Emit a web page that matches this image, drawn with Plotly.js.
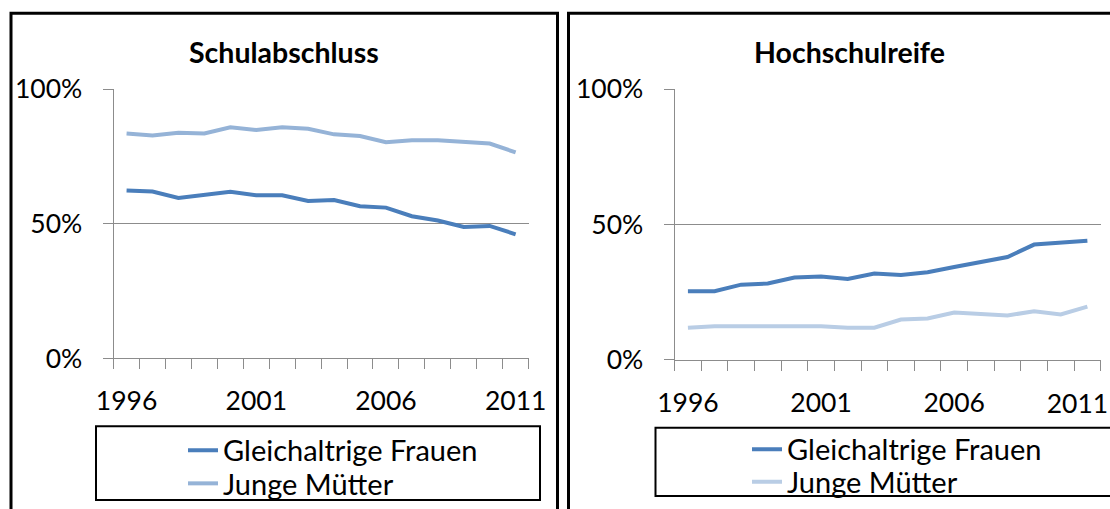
<!DOCTYPE html>
<html>
<head>
<meta charset="utf-8">
<script src="https://cdn.plot.ly/plotly-3.0.1.min.js"></script>
<style>
  html, body { margin: 0; padding: 0; background: #ffffff; }
  #chart { width: 1110px; height: 509px; }
</style>
</head>
<body>
<div id="chart"></div>
<script>
// ---- Data (values in percent) ----
const years = [1996, 1997, 1998, 1999, 2000, 2001, 2002, 2003, 2004, 2005, 2006, 2007, 2008, 2009, 2010, 2011];
const yearTickLabels = [1996, 2001, 2006, 2011];
const percentTicks = [0, 50, 100];

const panelTitles = ["Schulabschluss", "Hochschulreife"];
const seriesNames = ["Gleichaltrige Frauen", "Junge Mütter"];

// Schulabschluss
const schulFrauen  = [62.4, 62.0, 59.6, 60.6, 61.9, 60.6, 60.6, 58.5, 58.8, 56.5, 56.0, 52.8, 51.2, 48.8, 49.2, 46.1];
const schulMuetter = [83.5, 82.8, 83.8, 83.5, 85.8, 84.8, 85.8, 85.3, 83.2, 82.6, 80.3, 81.0, 81.0, 80.3, 79.8, 76.5];

// Hochschulreife
const hochFrauen  = [25.4, 25.4, 27.8, 28.2, 30.4, 30.8, 29.9, 31.9, 31.4, 32.4, 34.3, 36.1, 38.0, 42.6, 43.3, 44.0];
const hochMuetter = [11.9, 12.4, 12.4, 12.4, 12.4, 12.4, 11.9, 11.9, 14.9, 15.3, 17.5, 16.9, 16.4, 18.0, 16.8, 19.7];

// ---- Layout helpers (pixel -> paper) ----
const W = 1110, H = 509;
const px = v => v / W;
const py = v => 1 - v / H;

const FONT = "Lato, 'Open Sans', sans-serif";
const darkBlue = "#4A7EBB";
const lightBlueL = "#95B3D7";
const lightBlueR = "#B9CDE5";
const gray = "#8C8C8C";

const traces = [
  { x: years, y: schulFrauen, name: seriesNames[0], type: "scatter", mode: "lines",
    line: { color: darkBlue, width: 4 }, xaxis: "x", yaxis: "y", legend: "legend" },
  { x: years, y: schulMuetter, name: seriesNames[1], type: "scatter", mode: "lines",
    line: { color: lightBlueL, width: 4 }, xaxis: "x", yaxis: "y", legend: "legend2" },
  { x: years, y: hochFrauen, name: seriesNames[0], type: "scatter", mode: "lines",
    line: { color: darkBlue, width: 4 }, xaxis: "x2", yaxis: "y2", legend: "legend3" },
  // same scale as x2 (overlaying axis that carries the inward-nudged last year label)
  { x: years, y: hochMuetter, name: seriesNames[1], type: "scatter", mode: "lines",
    line: { color: lightBlueR, width: 4 }, xaxis: "x3", yaxis: "y2", legend: "legend4" }
];

const tickFont = { family: FONT, size: 26.5, color: "#000" };
const xRange = [years[0] - 0.5, years[years.length - 1] + 0.5];

function xAxis(domain, anchor, labels) {
  return {
    domain: domain, anchor: anchor,
    range: xRange,
    tickvals: labels, ticktext: labels.map(String),
    ticks: "", showgrid: false, zeroline: false,
    showline: true, linecolor: gray, linewidth: 1,
    minor: { ticks: "outside", tick0: 0.5, dtick: 1, ticklen: 10, tickcolor: gray, tickwidth: 1, showgrid: false },
    tickfont: tickFont,
    ticklabelstandoff: 19,
    ticklabeloverflow: "allow",
    fixedrange: true
  };
}
function yAxis(domain, anchor) {
  return {
    domain: domain, anchor: anchor,
    range: [0, 100], tickvals: percentTicks, ticktext: percentTicks.map(v => v + "%"),
    ticks: "outside", ticklen: 10, tickcolor: gray, tickwidth: 1,
    showgrid: true, gridcolor: gray, gridwidth: 1, zeroline: false,
    showline: true, linecolor: gray, linewidth: 1,
    tickfont: tickFont,
    ticklabelstandoff: 15,
    ticklabeloverflow: "allow",
    fixedrange: true
  };
}

const legendFont = { family: FONT, size: 29, color: "#000" };
function legendAt(xPix, topPix) {
  return {
    x: px(xPix), y: py(topPix), xanchor: "left", yanchor: "top",
    bgcolor: "rgba(0,0,0,0)", borderwidth: 0, font: legendFont,
    itemclick: false, itemdoubleclick: false
  };
}

const rightDomain = [px(674.6), px(1100.7)];
const lastYearLabel = yearTickLabels.slice(-1);

const layout = {
  width: W, height: H,
  margin: { l: 0, r: 0, t: 0, b: 0, pad: 0 },
  paper_bgcolor: "#ffffff", plot_bgcolor: "rgba(0,0,0,0)",
  showlegend: true,
  xaxis:  xAxis([px(113.6), px(528.6)], "y", yearTickLabels),
  yaxis:  yAxis([py(362), py(90)], "x"),
  xaxis2: xAxis(rightDomain, "y2", yearTickLabels.slice(0, -1)),
  yaxis2: yAxis([py(363.5), py(90)], "x2"),
  xaxis3: {
    domain: rightDomain, anchor: "y2", overlaying: "x2", range: xRange,
    tickvals: lastYearLabel, ticktext: lastYearLabel.map(String),
    ticks: "", showgrid: false, zeroline: false, showline: false,
    tickfont: tickFont, ticklabelstandoff: 26, ticklabelshift: -10,
    ticklabeloverflow: "allow", fixedrange: true
  },
  legend:  legendAt(183, 429),
  legend2: legendAt(183, 463),
  legend3: legendAt(747, 428),
  legend4: legendAt(747, 461),
  annotations: [
    { text: "<b>" + panelTitles[0] + "</b>", xref: "paper", yref: "paper",
      x: px(284), y: py(53), xanchor: "center", yanchor: "middle", showarrow: false,
      font: { family: FONT, size: 28.5, color: "#000" } },
    { text: "<b>" + panelTitles[1] + "</b>", xref: "paper", yref: "paper",
      x: px(849), y: py(53), xanchor: "center", yanchor: "middle", showarrow: false,
      font: { family: FONT, size: 28.5, color: "#000" } }
  ],
  shapes: [
    // panel frames
    { type: "rect", xref: "paper", yref: "paper", x0: px(11), x1: px(557.5), y0: py(530), y1: py(13.5),
      line: { color: "#000", width: 3 }, fillcolor: "rgba(0,0,0,0)", layer: "below" },
    { type: "rect", xref: "paper", yref: "paper", x0: px(568.5), x1: px(1130), y0: py(530), y1: py(13.5),
      line: { color: "#000", width: 3 }, fillcolor: "rgba(0,0,0,0)", layer: "below" },
    // legend boxes
    { type: "rect", xref: "paper", yref: "paper", x0: px(96), x1: px(540), y0: py(505), y1: py(430.5),
      line: { color: "#000", width: 2 }, fillcolor: "rgba(0,0,0,0)", layer: "below" },
    { type: "rect", xref: "paper", yref: "paper", x0: px(655.5), x1: px(1130), y0: py(501), y1: py(432),
      line: { color: "#000", width: 2 }, fillcolor: "rgba(0,0,0,0)", layer: "below" }
  ]
};

Plotly.newPlot("chart", traces, layout, { displayModeBar: false, staticPlot: true });
</script>
</body>
</html>
